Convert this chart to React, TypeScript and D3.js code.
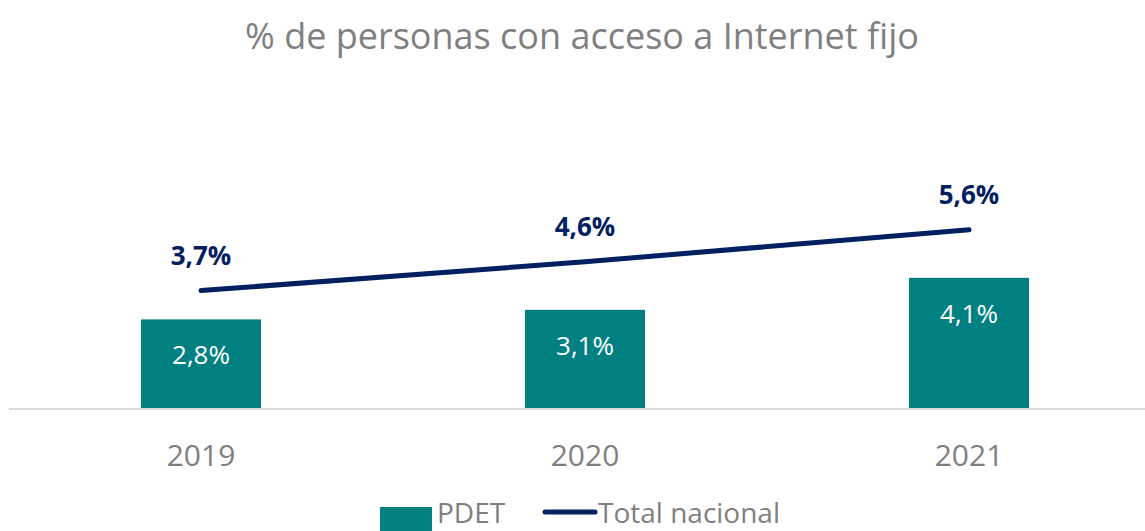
import React, { useRef, useEffect } from 'react';
import * as d3 from 'd3';

const years = ['2019', '2020', '2021'];
const pdetValues = [2.8, 3.1, 4.1];
const nacionalValues = [3.7, 4.6, 5.6];
const seriesNames = ['PDET', 'Total nacional'];
const titleText = '% de personas con acceso a Internet fijo';

const fmt = (v: number) => v.toFixed(1).replace('.', ',') + '%';

const TEAL = '#008080';
const NAVY = '#002060';
const GREY = '#7f7f7f';
const FONT = '"Open Sans", "Noto Sans", sans-serif';

const drawChart = (svgEl: SVGSVGElement) => {
    const svg = d3.select(svgEl);
    svg.selectAll('*').remove();
    svg.style('font-family', FONT);

    const x = d3.scaleBand<string>()
        .domain(years)
        .range([9, 1161])
        .paddingInner(0.6875)
        .paddingOuter(0.34375);

    const y = d3.scaleLinear()
        .domain([0, 9])
        .range([409, 121]);

    const cx = (d: string) => x(d)! + x.bandwidth() / 2;

    // title
    svg.append('text')
        .attr('x', 582)
        .attr('y', 49)
        .attr('text-anchor', 'middle')
        .attr('fill', GREY)
        .attr('font-size', 36)
        .text(titleText);

    // bars
    svg.append('g')
        .selectAll('rect')
        .data(years)
        .enter().append('rect')
        .attr('x', d => x(d)!)
        .attr('y', (d, i) => y(pdetValues[i]))
        .attr('width', x.bandwidth())
        .attr('height', (d, i) => y(0) - y(pdetValues[i]))
        .attr('fill', TEAL);

    // x axis
    const axis = svg.append('g')
        .attr('transform', `translate(0,${y(0)})`)
        .call(d3.axisBottom(x).tickSize(0).tickSizeOuter(0).tickPadding(36));
    axis.select('.domain')
        .attr('d', 'M9,0H1145')
        .attr('stroke', '#d9d9d9')
        .attr('stroke-width', 2);
    axis.selectAll('.tick text')
        .attr('fill', GREY)
        .attr('font-size', 30)
        .attr('font-family', FONT);

    // bar labels
    svg.append('g')
        .selectAll('text')
        .data(years)
        .enter().append('text')
        .attr('x', d => cx(d))
        .attr('y', (d, i) => y(pdetValues[i]) + 45)
        .attr('text-anchor', 'middle')
        .attr('fill', '#ffffff')
        .attr('font-size', 26)
        .text((d, i) => fmt(pdetValues[i]));

    // total nacional line
    const line = d3.line<string>()
        .x(d => cx(d))
        .y((d, i) => y(nacionalValues[i]));

    svg.append('path')
        .datum(years)
        .attr('d', line)
        .attr('fill', 'none')
        .attr('stroke', NAVY)
        .attr('stroke-width', 5)
        .attr('stroke-linecap', 'round');

    svg.append('g')
        .selectAll('text')
        .data(years)
        .enter().append('text')
        .attr('x', d => cx(d))
        .attr('y', (d, i) => y(nacionalValues[i]) - 26)
        .attr('text-anchor', 'middle')
        .attr('fill', NAVY)
        .attr('font-size', 26)
        .attr('font-weight', 'bold')
        .text((d, i) => fmt(nacionalValues[i]));

    // legend (the reference crops it at the bottom edge)
    const legend = svg.append('g');
    legend.append('rect')
        .attr('x', 380).attr('y', 507)
        .attr('width', 52).attr('height', 30)
        .attr('fill', TEAL);
    legend.append('text')
        .attr('x', 437).attr('y', 523)
        .attr('fill', GREY)
        .attr('font-size', 28)
        .text(seriesNames[0]);
    legend.append('line')
        .attr('x1', 545).attr('x2', 595)
        .attr('y1', 512).attr('y2', 512)
        .attr('stroke', NAVY)
        .attr('stroke-width', 5)
        .attr('stroke-linecap', 'round');
    legend.append('text')
        .attr('x', 598).attr('y', 523)
        .attr('fill', GREY)
        .attr('font-size', 28)
        .text(seriesNames[1]);
};

const App: React.FC = () => {
    const ref = useRef<SVGSVGElement>(null);

    useEffect(() => {
        if (ref.current) drawChart(ref.current);
    }, []);

    return (
        <svg
            ref={ref}
            width={1145}
            height={531}
            style={{ position: 'absolute', left: 0, top: 0, background: '#ffffff' }}
        />
    );
};

export default App;
